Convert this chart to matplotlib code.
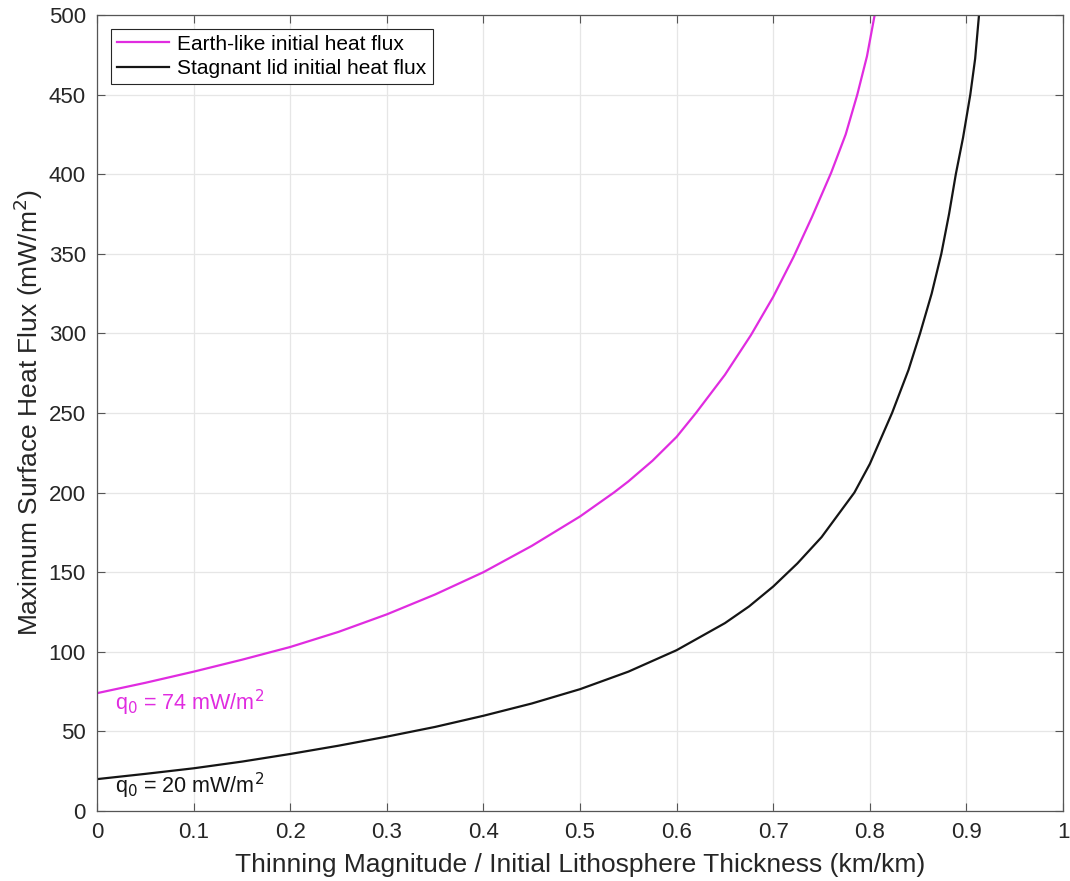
import matplotlib
matplotlib.use("Agg")
from matplotlib import pyplot as plt

# values
# Earth-like initial heat flux (q0 = 74 mW/m^2)
x_earth = [0.0, 0.05, 0.1, 0.15, 0.2, 0.25, 0.3, 0.35, 0.4, 0.45, 0.5, 0.535, 0.55,
           0.575, 0.6, 0.62, 0.65, 0.677, 0.7, 0.721, 0.74, 0.76, 0.775, 0.787, 0.797, 0.805]
q_earth = [74, 80.5, 87.5, 95, 103, 112.5, 123.5, 136, 150, 166.5, 185, 200, 207,
           220, 235, 250, 274, 299, 323, 348, 373, 401, 425, 450, 474, 500]

# Stagnant lid initial heat flux (q0 = 20 mW/m^2)
x_lid = [0.0, 0.05, 0.1, 0.15, 0.2, 0.25, 0.3, 0.35, 0.4, 0.45, 0.5, 0.55, 0.6,
         0.65, 0.675, 0.7, 0.725, 0.75, 0.784, 0.8, 0.823, 0.84, 0.852, 0.864,
         0.874, 0.882, 0.889, 0.8965, 0.904, 0.909, 0.913]
q_lid = [20, 23.3, 26.8, 31, 35.8, 41, 46.7, 52.8, 59.8, 67.5, 76.5, 87.5, 101,
         118, 128.5, 141, 155.5, 172, 200, 218, 250, 277, 300, 325,
         350, 375, 400, 423, 450, 472.5, 500]

x_ticks = [0, 0.1, 0.2, 0.3, 0.4, 0.5, 0.6, 0.7, 0.8, 0.9, 1]
x_tick_labels = ["0", "0.1", "0.2", "0.3", "0.4", "0.5", "0.6", "0.7", "0.8", "0.9", "1"]
y_ticks = [0, 50, 100, 150, 200, 250, 300, 350, 400, 450, 500]

magenta = "#e02ce0"
dark = "#151515"

plt.rcParams["font.family"] = ["Liberation Sans", "DejaVu Sans"]
fig = plt.figure(figsize=(10.7, 8.81), dpi=100)
ax = fig.add_axes([0.0907, 0.0795, 0.9028, 0.9035])

ax.plot(x_earth, q_earth, color=magenta, lw=1.6, label="Earth-like initial heat flux")
ax.plot(x_lid, q_lid, color=dark, lw=1.6, label="Stagnant lid initial heat flux")

ax.text(0.019, 68, r"q$_0$ = 74 mW/m$^2$", color=magenta, fontsize=15.5, va="center")
ax.text(0.019, 16, r"q$_0$ = 20 mW/m$^2$", color=dark, fontsize=15.5, va="center")

ax.set_xlim(0, 1)
ax.set_ylim(0, 500)
ax.set_xticks(x_ticks)
ax.set_xticklabels(x_tick_labels)
ax.set_yticks(y_ticks)
ax.tick_params(direction="in", top=True, right=True, labelsize=16, length=6,
               color="#555555", labelcolor="#262626", pad=8)
for s in ax.spines.values():
    s.set_color("#555555")
    s.set_linewidth(0.9)

ax.grid(True, color="#e6e6e6", lw=0.9)
ax.set_axisbelow(True)

ax.set_xlabel("Thinning Magnitude / Initial Lithosphere Thickness (km/km)",
              fontsize=19, color="#262626", labelpad=7)
ax.set_ylabel(r"Maximum Surface Heat Flux (mW/m$^2$)", fontsize=19, color="#262626", labelpad=2.5)

leg = ax.legend(loc="upper left", fontsize=15, fancybox=False, framealpha=1,
                edgecolor="#262626", borderpad=0.3, handlelength=2.5, handletextpad=0.4,
                labelspacing=0.25, borderaxespad=0.65)
leg.get_frame().set_linewidth(0.8)

fig.savefig("out.png", dpi=100)
